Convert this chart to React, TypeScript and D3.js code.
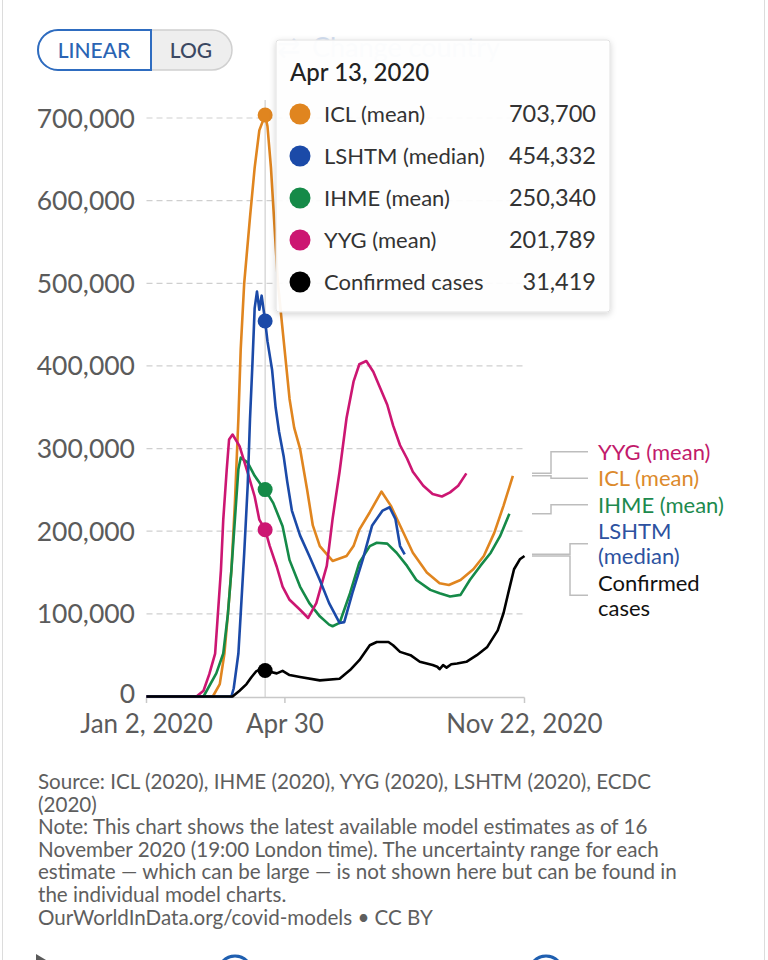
import React from 'react';
import * as d3 from 'd3';

// ---------- data ----------
const startDate = '2020-01-02';
const endDate = '2020-11-22';
const hoverDate = '2020-04-13';
const yTicks = [0, 100000, 200000, 300000, 400000, 500000, 600000, 700000];
const xTickDates = ['2020-01-02', '2020-04-30', '2020-11-22'];
const xTickLabels = ['Jan 2, 2020', 'Apr 30', 'Nov 22, 2020'];

const iclMean: [string, number][] = [
  ['2020-01-02', 0], ['2020-02-28', 0], ['2020-03-05', 15000], ['2020-03-09', 52000],
  ['2020-03-12', 100000], ['2020-03-15', 153000], ['2020-03-18', 234000], ['2020-03-21', 336000],
  ['2020-03-23', 420000], ['2020-03-26', 500000], ['2020-03-31', 580000], ['2020-04-04', 640000],
  ['2020-04-08', 685000], ['2020-04-13', 703700], ['2020-04-15', 690000], ['2020-04-18', 640000],
  ['2020-04-21', 570000], ['2020-04-24', 500000], ['2020-04-29', 430000], ['2020-05-04', 360000],
  ['2020-05-08', 325000], ['2020-05-13', 300000], ['2020-05-19', 251000], ['2020-05-24', 207000],
  ['2020-05-30', 182000], ['2020-06-10', 164000], ['2020-06-22', 170000], ['2020-06-28', 182000],
  ['2020-07-03', 202000], ['2020-07-12', 223000], ['2020-07-22', 248000], ['2020-07-30', 231000],
  ['2020-08-07', 207000], ['2020-08-18', 174000], ['2020-08-30', 150000], ['2020-09-10', 137000],
  ['2020-09-18', 135000], ['2020-09-28', 141000], ['2020-10-09', 154000], ['2020-10-18', 170000],
  ['2020-10-27', 198000], ['2020-11-04', 231000], ['2020-11-12', 267000],
];

const lshtmMedian: [string, number][] = [
  ['2020-01-02', 0], ['2020-03-15', 0], ['2020-03-17', 10000], ['2020-03-21', 52000],
  ['2020-03-23', 100000], ['2020-03-26', 173000], ['2020-03-29', 255000], ['2020-03-31', 336000],
  ['2020-04-02', 400000], ['2020-04-04', 470000], ['2020-04-06', 490000], ['2020-04-08', 468000],
  ['2020-04-10', 485000], ['2020-04-13', 454332], ['2020-04-15', 430000], ['2020-04-19', 395000],
  ['2020-04-22', 350000], ['2020-04-25', 320000], ['2020-04-29', 290000], ['2020-05-02', 260000],
  ['2020-05-06', 225000], ['2020-05-13', 195000], ['2020-05-21', 170000], ['2020-05-30', 141000],
  ['2020-06-07', 113000], ['2020-06-16', 89000], ['2020-06-20', 90000], ['2020-06-27', 125000],
  ['2020-07-06', 166000], ['2020-07-14', 207000], ['2020-07-23', 225000], ['2020-07-29', 229000],
  ['2020-08-03', 215000], ['2020-08-07', 182000], ['2020-08-11', 172000],
];

const ihmeMean: [string, number][] = [
  ['2020-01-02', 0], ['2020-02-20', 0], ['2020-03-02', 28000], ['2020-03-08', 52000],
  ['2020-03-12', 100000], ['2020-03-15', 153000], ['2020-03-18', 214000], ['2020-03-21', 275000],
  ['2020-03-23', 289000], ['2020-03-29', 283000], ['2020-04-04', 267000], ['2020-04-10', 255000],
  ['2020-04-13', 250340], ['2020-04-20', 234000], ['2020-04-28', 206000], ['2020-05-04', 165000],
  ['2020-05-13', 133000], ['2020-05-21', 113000], ['2020-05-30', 97000], ['2020-06-07', 87000],
  ['2020-06-10', 85000], ['2020-06-16', 89000], ['2020-06-25', 125000], ['2020-07-03', 162000],
  ['2020-07-12', 182000], ['2020-07-18', 186000], ['2020-07-27', 185000], ['2020-08-04', 174000],
  ['2020-08-13', 158000], ['2020-08-21', 141000], ['2020-09-02', 129000], ['2020-09-10', 125000],
  ['2020-09-19', 121000], ['2020-09-28', 123000], ['2020-10-06', 141000], ['2020-10-15', 158000],
  ['2020-10-24', 174000], ['2020-11-01', 194000], ['2020-11-09', 221000],
];

const yygMean: [string, number][] = [
  ['2020-01-02', 0], ['2020-02-14', 0], ['2020-02-20', 7000], ['2020-02-25', 27000],
  ['2020-03-01', 52000], ['2020-03-03', 92000], ['2020-03-06', 153000], ['2020-03-08', 214000],
  ['2020-03-11', 275000], ['2020-03-13', 311000], ['2020-03-16', 317000], ['2020-03-22', 303000],
  ['2020-03-29', 271000], ['2020-04-04', 242000], ['2020-04-08', 214000], ['2020-04-13', 201789],
  ['2020-04-17', 182000], ['2020-04-23', 157000], ['2020-04-28', 133000], ['2020-05-04', 117000],
  ['2020-05-13', 105000], ['2020-05-20', 95000], ['2020-05-27', 113000], ['2020-06-05', 158000],
  ['2020-06-10', 215000], ['2020-06-16', 272000], ['2020-06-22', 337000], ['2020-06-28', 381000],
  ['2020-07-03', 402000], ['2020-07-09', 406000], ['2020-07-15', 393000], ['2020-07-21', 373000],
  ['2020-07-27', 353000], ['2020-08-01', 328000], ['2020-08-07', 304000], ['2020-08-13', 288000],
  ['2020-08-18', 272000], ['2020-08-27', 255000], ['2020-09-04', 245000], ['2020-09-12', 242000],
  ['2020-09-19', 247000], ['2020-09-26', 255000], ['2020-10-03', 270000],
];

const confirmedCases: [string, number][] = [
  ['2020-01-02', 0], ['2020-03-16', 0], ['2020-03-22', 7000], ['2020-03-28', 15000],
  ['2020-04-01', 23000], ['2020-04-05', 30000], ['2020-04-10', 34000], ['2020-04-13', 31419],
  ['2020-04-17', 30000], ['2020-04-23', 28000], ['2020-04-28', 31000], ['2020-05-04', 26000],
  ['2020-05-13', 23600], ['2020-05-30', 19500], ['2020-06-16', 21500], ['2020-06-25', 32000],
  ['2020-07-03', 44000], ['2020-07-12', 62000], ['2020-07-18', 66000], ['2020-07-28', 66000],
  ['2020-08-01', 62000], ['2020-08-07', 54000], ['2020-08-16', 50000], ['2020-08-24', 42000],
  ['2020-09-04', 38000], ['2020-09-08', 36000], ['2020-09-10', 33000], ['2020-09-13', 38000],
  ['2020-09-16', 35000], ['2020-09-20', 39000], ['2020-09-25', 40000], ['2020-10-03', 42000],
  ['2020-10-12', 50000], ['2020-10-21', 60000], ['2020-10-30', 80000], ['2020-11-04', 101000],
  ['2020-11-08', 125000], ['2020-11-13', 154000], ['2020-11-18', 166000], ['2020-11-22', 170000],
];

const seriesNames = ['ICL (mean)', 'LSHTM (median)', 'IHME (mean)', 'YYG (mean)', 'Confirmed cases'];
const seriesData = [iclMean, lshtmMedian, ihmeMean, yygMean, confirmedCases];
const seriesColors = ['#e0851f', '#1b4aa8', '#158a48', '#cc1672', '#000000'];
const legendColors = ['#dc8a2c', '#2d52a0', '#1d8a4e', '#c21a6b', '#111111'];

const sourceLines = [
  'Source: ICL (2020), IHME (2020), YYG (2020), LSHTM (2020), ECDC',
  '(2020)',
  'Note: This chart shows the latest available model estimates as of 16',
  'November 2020 (19:00 London time). The uncertainty range for each',
  'estimate \u2014 which can be large \u2014 is not shown here but can be found in',
  'the individual model charts.',
  'OurWorldInData.org/covid-models \u2022 CC BY',
];

// ---------- chart ----------
const FONT = "Lato, 'Noto Sans', sans-serif";
const parse = d3.utcParse('%Y-%m-%d');

export default function App() {
  const W = 768;
  const H = 960;
  const left = 146.5;
  const right = 524.5;
  const x = d3.scaleUtc().domain([parse(startDate)!, parse(endDate)!]).range([left, right]);
  const y = d3.scaleLinear().domain([0, 700000]).range([696.5, 118]);
  const line = d3
    .line<[string, number]>()
    .x((d) => x(parse(d[0])!))
    .y((d) => y(d[1]));

  const fmt = d3.format(',');
  const hover = parse(hoverDate)!;
  const hx = x(hover);

  const series = seriesNames.map((name, i) => {
    const data = seriesData[i];
    const hv = data.find((d) => d[0] === hoverDate);
    return { name, data, color: seriesColors[i], lcolor: legendColors[i], hoverVal: hv ? hv[1] : 0, last: data[data.length - 1][1] };
  });

  // legend layout (labels at right, de-overlapped)
  const lineH = 25;
  const items = series
    .map((s) => {
      const lines = s.name.length > 12 ? s.name.split(' ') : [s.name];
      return { s, lines, h: lines.length * lineH + 1.5, desired: y(s.last), top: 0 };
    })
    .sort((a, b) => a.desired - b.desired);
  type Cl = { its: typeof items; top: number; h: number };
  let clusters: Cl[] = items.map((it) => ({ its: [it], top: 0, h: it.h }));
  const place = (c: Cl) => {
    let off = 0;
    const diffs: number[] = [];
    c.its.forEach((it) => {
      diffs.push(it.desired - off - it.h / 2);
      off += it.h;
    });
    c.h = off;
    c.top = d3.mean(diffs)!;
  };
  clusters.forEach(place);
  let merged = true;
  while (merged) {
    merged = false;
    for (let i = 0; i < clusters.length - 1; i++) {
      const a = clusters[i], b = clusters[i + 1];
      if (a.top + a.h > b.top) {
        const c: Cl = { its: [...a.its, ...b.its], top: 0, h: 0 };
        place(c);
        clusters.splice(i, 2, c);
        merged = true;
        break;
      }
    }
  }
  clusters.forEach((c) => {
    let off = c.top;
    c.its.forEach((it) => {
      it.top = off;
      off += it.h;
    });
  });

  const tooltipRows = [...series].sort((a, b) => b.hoverVal - a.hoverVal);

  return (
    <svg
      width={W}
      height={H}
      style={{ position: 'absolute', left: 0, top: 0, background: '#fff' }}
      fontFamily={FONT}
    >
      <defs>
        <filter id="shadow" x="-10%" y="-10%" width="120%" height="130%">
          <feDropShadow dx="0" dy="2" stdDeviation="3" floodColor="#000" floodOpacity="0.18" />
        </filter>
      </defs>
      <rect x={0} y={0} width={W} height={H} fill="#fff" />
      <line x1={2.5} x2={2.5} y1={0} y2={H} stroke="#dcdcdc" />
      <line x1={764.5} x2={764.5} y1={0} y2={H} stroke="#dcdcdc" />

      {/* toggle */}
      <rect x={38} y={30} width={194} height={40} rx={20} fill="#eeeeee" stroke="#d0d0d0" strokeWidth={1.5} />
      <path d="M58,30 H151 V70 H58 A20,20 0 0 1 58,30 Z" fill="#fff" stroke="#2e6cc0" strokeWidth={2} />
      <text x={94} y={50} dy="0.36em" textAnchor="middle" fontSize={21} fontWeight={500} fill="#2a64b4">LINEAR</text>
      <text x={191} y={50} dy="0.36em" textAnchor="middle" fontSize={21} fontWeight={500} fill="#3b4862">LOG</text>

      {/* gridlines & y labels */}
      {yTicks.map((t) => (
        <g key={t}>
          {t > 0 && (
            <line x1={left} x2={right} y1={y(t)} y2={y(t)} stroke="#cfcfcf" strokeDasharray="6,4" strokeWidth={1.2} />
          )}
          <text x={135} y={t === 0 ? y(t) - 3 : y(t)} dy="0.36em" textAnchor="end" fontSize={26.5} fill="#5b5b5b">
            {fmt(t)}
          </text>
        </g>
      ))}

      {/* x axis */}
      <line x1={left} x2={right} y1={697.5} y2={697.5} stroke="#c8c8c8" strokeWidth={1.5} />
      {xTickDates.map((d, i) => {
        const xx = x(parse(d)!);
        return (
          <g key={d}>
            <line x1={xx} x2={xx} y1={697.5} y2={703} stroke="#c8c8c8" strokeWidth={1.5} />
            <text x={xx} y={724} dy="0.36em" textAnchor="middle" fontSize={26} fill="#5b5b5b">
              {xTickLabels[i]}
            </text>
          </g>
        );
      })}

      {/* hover line */}
      <line x1={hx} x2={hx} y1={100} y2={697} stroke="#d0d0d0" strokeWidth={1.2} />

      {/* series lines */}
      {[0, 2, 3, 1, 4].map((i) => (
        <path
          key={series[i].name}
          d={line(series[i].data) || ''}
          fill="none"
          stroke={series[i].color}
          strokeWidth={2.6}
          strokeLinejoin="round"
        />
      ))}

      {/* hover dots */}
      {series.map((s) => (
        <circle key={s.name} cx={hx} cy={y(s.hoverVal)} r={7.5} fill={s.color} />
      ))}

      {/* legend */}
      {items.map((it) => {
        const cy = it.top + it.h / 2;
        const elbow = it.lines.length > 1 ? 570 : 551;
        return (
          <g key={it.s.name}>
            <path
              d={`M532,${it.desired} H${elbow} V${cy} H588`}
              fill="none"
              stroke="#bdbdbd"
              strokeWidth={1.5}
            />
            {it.lines.map((ln, j) => (
              <text
                key={j}
                x={598}
                y={cy + (j - (it.lines.length - 1) / 2) * lineH}
                dy="0.36em"
                fontSize={22}
                fill={it.s.lcolor}
              >
                {ln}
              </text>
            ))}
          </g>
        );
      })}

      {/* change country (behind tooltip) */}
      <text x={277} y={47} dy="0.36em" fontSize={28} fill="#cfdcf0" fontFamily="'DejaVu Sans', sans-serif">{'\u21C4'}</text>
      <text x={312} y={47} dy="0.36em" fontSize={27} fill="#d3def0">Change country</text>

      {/* tooltip */}
      <g>
        <rect x={276} y={40} width={334} height={272} rx={3} fill="#fff" fillOpacity={0.93} stroke="#e2e2e2" filter="url(#shadow)" />
        <text x={290} y={72} dy="0.36em" fontSize={24} fontWeight={500} fill="#222">
          {d3.utcFormat('%b %-d, %Y')(hover)}
        </text>
        {tooltipRows.map((s, i) => {
          const ry = 114 + i * 42;
          return (
            <g key={s.name}>
              <circle cx={300} cy={ry} r={10.5} fill={s.color} />
              <text x={324} y={ry} dy="0.36em" fontSize={22} fill="#333">{s.name}</text>
              <text x={596} y={ry} dy="0.36em" fontSize={23.5} textAnchor="end" fill="#333">{fmt(s.hoverVal)}</text>
            </g>
          );
        })}
      </g>

      {/* footer */}
      {sourceLines.map((t, i) => (
        <text key={i} x={38} y={789 + i * 22.6} fontSize={20.6} fill="#5e5e5e">{t}</text>
      ))}

      {/* partial bottom icons */}
      <polygon points="36,960 36,954 46,960" fill="#5a5a5a" />
      <circle cx={235} cy={973} r={17} fill="none" stroke="#1f5fb0" strokeWidth={3} />
      <circle cx={546} cy={973} r={17} fill="none" stroke="#1f5fb0" strokeWidth={3} />
    </svg>
  );
}
